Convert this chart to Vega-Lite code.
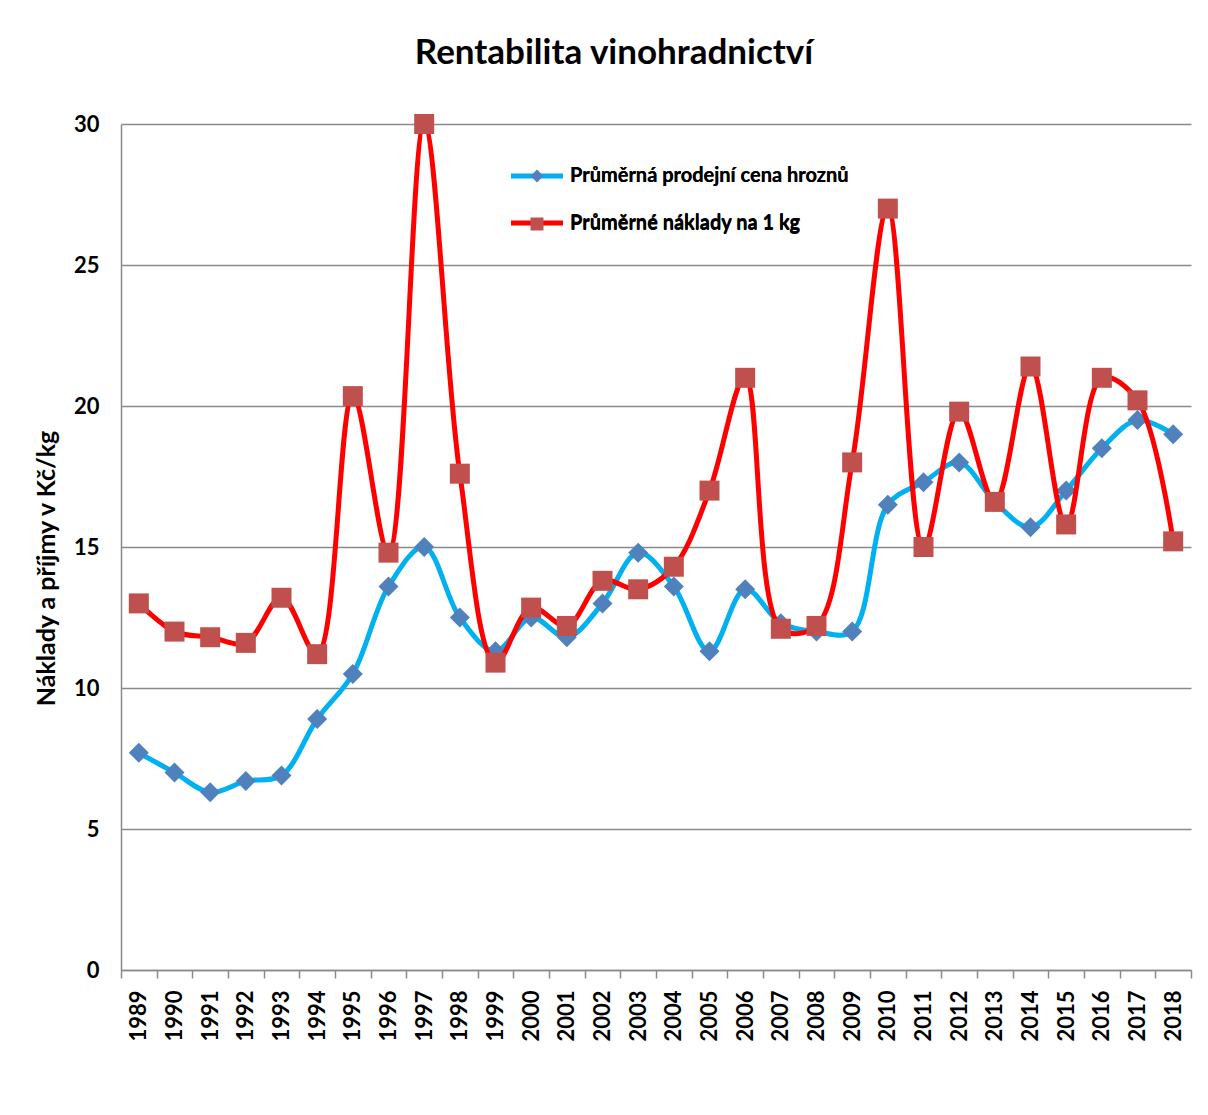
{
  "$schema": "https://vega.github.io/schema/vega-lite/v6.json",
  "autosize": "none",
  "width": 1070,
  "height": 846,
  "padding": {"left": 121, "top": 124, "right": 17, "bottom": 145},
  "background": "white",
  "title": {
    "text": "Rentabilita vinohradnictví",
    "font": "Lato",
    "fontSize": 35,
    "fontWeight": "bold",
    "color": "black",
    "anchor": "middle",
    "dx": -42,
    "offset": 42
  },
  "data": {
    "values": [
      {"year": 1989, "series": "Průměrná prodejní cena hroznů", "value": 7.7},
      {"year": 1990, "series": "Průměrná prodejní cena hroznů", "value": 7.0},
      {"year": 1991, "series": "Průměrná prodejní cena hroznů", "value": 6.3},
      {"year": 1992, "series": "Průměrná prodejní cena hroznů", "value": 6.7},
      {"year": 1993, "series": "Průměrná prodejní cena hroznů", "value": 6.9},
      {"year": 1994, "series": "Průměrná prodejní cena hroznů", "value": 8.9},
      {"year": 1995, "series": "Průměrná prodejní cena hroznů", "value": 10.5},
      {"year": 1996, "series": "Průměrná prodejní cena hroznů", "value": 13.6},
      {"year": 1997, "series": "Průměrná prodejní cena hroznů", "value": 15.0},
      {"year": 1998, "series": "Průměrná prodejní cena hroznů", "value": 12.5},
      {"year": 1999, "series": "Průměrná prodejní cena hroznů", "value": 11.3},
      {"year": 2000, "series": "Průměrná prodejní cena hroznů", "value": 12.5},
      {"year": 2001, "series": "Průměrná prodejní cena hroznů", "value": 11.8},
      {"year": 2002, "series": "Průměrná prodejní cena hroznů", "value": 13.0},
      {"year": 2003, "series": "Průměrná prodejní cena hroznů", "value": 14.8},
      {"year": 2004, "series": "Průměrná prodejní cena hroznů", "value": 13.6},
      {"year": 2005, "series": "Průměrná prodejní cena hroznů", "value": 11.3},
      {"year": 2006, "series": "Průměrná prodejní cena hroznů", "value": 13.5},
      {"year": 2007, "series": "Průměrná prodejní cena hroznů", "value": 12.3},
      {"year": 2008, "series": "Průměrná prodejní cena hroznů", "value": 12.0},
      {"year": 2009, "series": "Průměrná prodejní cena hroznů", "value": 12.0},
      {"year": 2010, "series": "Průměrná prodejní cena hroznů", "value": 16.5},
      {"year": 2011, "series": "Průměrná prodejní cena hroznů", "value": 17.3},
      {"year": 2012, "series": "Průměrná prodejní cena hroznů", "value": 18.0},
      {"year": 2013, "series": "Průměrná prodejní cena hroznů", "value": 16.6},
      {"year": 2014, "series": "Průměrná prodejní cena hroznů", "value": 15.7},
      {"year": 2015, "series": "Průměrná prodejní cena hroznů", "value": 17.0},
      {"year": 2016, "series": "Průměrná prodejní cena hroznů", "value": 18.5},
      {"year": 2017, "series": "Průměrná prodejní cena hroznů", "value": 19.5},
      {"year": 2018, "series": "Průměrná prodejní cena hroznů", "value": 19.0},
      {"year": 1989, "series": "Průměrné náklady na 1 kg", "value": 13.0},
      {"year": 1990, "series": "Průměrné náklady na 1 kg", "value": 12.0},
      {"year": 1991, "series": "Průměrné náklady na 1 kg", "value": 11.8},
      {"year": 1992, "series": "Průměrné náklady na 1 kg", "value": 11.6},
      {"year": 1993, "series": "Průměrné náklady na 1 kg", "value": 13.2},
      {"year": 1994, "series": "Průměrné náklady na 1 kg", "value": 11.2},
      {"year": 1995, "series": "Průměrné náklady na 1 kg", "value": 20.35},
      {"year": 1996, "series": "Průměrné náklady na 1 kg", "value": 14.8},
      {"year": 1997, "series": "Průměrné náklady na 1 kg", "value": 30.0},
      {"year": 1998, "series": "Průměrné náklady na 1 kg", "value": 17.6},
      {"year": 1999, "series": "Průměrné náklady na 1 kg", "value": 10.9},
      {"year": 2000, "series": "Průměrné náklady na 1 kg", "value": 12.85},
      {"year": 2001, "series": "Průměrné náklady na 1 kg", "value": 12.2},
      {"year": 2002, "series": "Průměrné náklady na 1 kg", "value": 13.8},
      {"year": 2003, "series": "Průměrné náklady na 1 kg", "value": 13.5},
      {"year": 2004, "series": "Průměrné náklady na 1 kg", "value": 14.3},
      {"year": 2005, "series": "Průměrné náklady na 1 kg", "value": 17.0},
      {"year": 2006, "series": "Průměrné náklady na 1 kg", "value": 21.0},
      {"year": 2007, "series": "Průměrné náklady na 1 kg", "value": 12.1},
      {"year": 2008, "series": "Průměrné náklady na 1 kg", "value": 12.2},
      {"year": 2009, "series": "Průměrné náklady na 1 kg", "value": 18.0},
      {"year": 2010, "series": "Průměrné náklady na 1 kg", "value": 27.0},
      {"year": 2011, "series": "Průměrné náklady na 1 kg", "value": 15.0},
      {"year": 2012, "series": "Průměrné náklady na 1 kg", "value": 19.8},
      {"year": 2013, "series": "Průměrné náklady na 1 kg", "value": 16.6},
      {"year": 2014, "series": "Průměrné náklady na 1 kg", "value": 21.4},
      {"year": 2015, "series": "Průměrné náklady na 1 kg", "value": 15.8},
      {"year": 2016, "series": "Průměrné náklady na 1 kg", "value": 21.0},
      {"year": 2017, "series": "Průměrné náklady na 1 kg", "value": 20.2},
      {"year": 2018, "series": "Průměrné náklady na 1 kg", "value": 15.2}
    ]
  },
  "encoding": {
    "x": {
      "field": "year",
      "type": "ordinal",
      "scale": {"type": "band", "paddingInner": 0, "paddingOuter": 0},
      "axis": {
        "title": null,
        "labelAngle": 270,
        "labelAlign": "right",
        "labelBaseline": "middle",
        "labelFont": "Lato",
        "labelFontSize": 22,
        "labelFontWeight": "bold",
        "labelColor": "black",
        "labelPadding": 12,
        "tickBand": "extent",
        "ticks": true,
        "tickSize": 8,
        "tickColor": "#8a8a8a",
        "tickWidth": 1.5,
        "domainColor": "#8a8a8a",
        "domainWidth": 1.5,
        "grid": false
      }
    },
    "y": {
      "field": "value",
      "type": "quantitative",
      "scale": {"domain": [0, 30], "nice": false, "zero": true},
      "axis": {
        "title": "Náklady a příjmy v Kč/kg",
        "titleFont": "Lato",
        "titleFontSize": 25,
        "titleFontWeight": "bold",
        "titleColor": "black",
        "titlePadding": 14,
        "titleY": 444,
        "values": [0, 5, 10, 15, 20, 25, 30],
        "labelFont": "Lato",
        "labelFontSize": 22,
        "labelFontWeight": "bold",
        "labelColor": "black",
        "labelPadding": 22,
        "ticks": false,
        "domainColor": "#8a8a8a",
        "domainWidth": 1.5,
        "grid": true,
        "gridColor": "#8a8a8a",
        "gridWidth": 1.5
      }
    }
  },
  "layer": [
    {
      "transform": [{"filter": "datum.series === 'Průměrná prodejní cena hroznů'"}],
      "mark": {"type": "line", "interpolate": "catmull-rom", "strokeWidth": 5},
      "encoding": {
        "stroke": {
          "field": "series",
          "type": "nominal",
          "scale": {"domain": ["Průměrná prodejní cena hroznů", "Průměrné náklady na 1 kg"], "range": ["#00B0F0", "#FF0000"]},
          "legend": {
            "title": null,
            "orient": "none",
            "legendX": 406,
            "legendY": 42,
            "padding": 0,
            "symbolType": "M-4,0H4",
            "symbolSize": 169,
            "symbolStrokeWidth": 5,
            "labelFont": "Lato",
            "labelFontSize": 20,
            "labelFontWeight": "bold",
            "labelColor": "black",
            "labelOffset": 23,
            "rowPadding": 27,
            "labelLimit": 500
          }
        }
      }
    },
    {
      "transform": [{"filter": "datum.series === 'Průměrná prodejní cena hroznů'"}],
      "mark": {"type": "point", "filled": true, "size": 400, "opacity": 1},
      "encoding": {
        "fill": {
          "field": "series",
          "type": "nominal",
          "scale": {"range": ["#4F81BD", "#C0504D"]},
          "legend": {
            "title": null,
            "orient": "none",
            "legendX": 406,
            "legendY": 42,
            "padding": 0,
            "symbolSize": 169,
            "symbolStrokeWidth": 5,
            "symbolStrokeColor": "transparent",
            "symbolOpacity": 1,
            "labelFont": "Lato",
            "labelFontSize": 20,
            "labelFontWeight": "bold",
            "labelColor": "black",
            "labelOffset": 23,
            "rowPadding": 14,
            "labelLimit": 500
          }
        },
        "shape": {
          "field": "series",
          "type": "nominal",
          "scale": {"range": ["diamond", "square"]}
        }
      }
    },
    {
      "transform": [{"filter": "datum.series === 'Průměrné náklady na 1 kg'"}],
      "mark": {"type": "line", "interpolate": "catmull-rom", "strokeWidth": 5},
      "encoding": {
        "stroke": {"field": "series", "type": "nominal"}
      }
    },
    {
      "transform": [{"filter": "datum.series === 'Průměrné náklady na 1 kg'"}],
      "mark": {"type": "point", "filled": true, "size": 400, "opacity": 1},
      "encoding": {
        "fill": {"field": "series", "type": "nominal"},
        "shape": {"field": "series", "type": "nominal"}
      }
    }
  ],
  "config": {
    "view": {"stroke": null},
    "font": "Lato"
  }
}
